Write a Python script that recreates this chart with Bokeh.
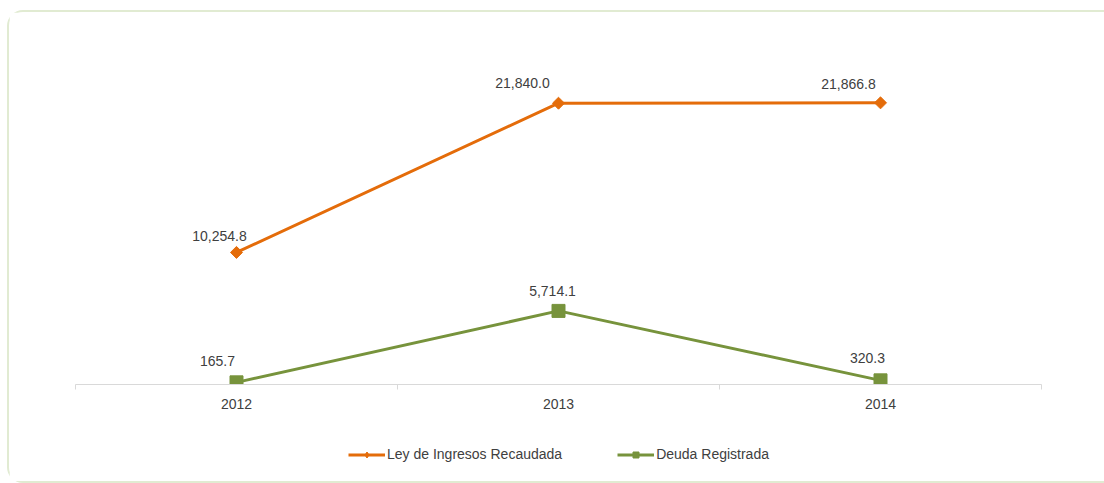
from bokeh.plotting import figure
from bokeh.layouts import column
from bokeh.models import ColumnDataSource, FixedTicker, Legend, LegendItem, Range1d
from bokeh.core.properties import value
from bokeh.embed import file_html
from bokeh.resources import INLINE
import numpy as np

# ---- data ----
years = ["2012", "2013", "2014"]
ley_ingresos = [10254.8, 21840.0, 21866.8]
deuda = [165.7, 5714.1, 320.3]
ley_labels = ["10,254.8", "21,840.0", "21,866.8"]
deuda_labels = ["165.7", "5,714.1", "320.3"]
series_names = ["Ley de Ingresos Recaudada", "Deuda Registrada"]

# ---- label placement (screen px, styling only) ----
ley_label_dx = [-17, -36, -32]
ley_label_dy = [-16, -20, -19]
deuda_label_dx = [-19, -6, -13]
deuda_label_dy = [-21, -20, -22]

ORANGE = "#E46C0A"
GREEN = "#77933C"
TEXT = "#404040"
FONT = "Liberation Sans"
BORDER = "#e1ebd2"

xpos = [i + 0.5 for i in range(len(years))]

src_ley = ColumnDataSource(dict(x=xpos, y=ley_ingresos, lbl=ley_labels,
                                dx=ley_label_dx, dy=ley_label_dy))
src_deu = ColumnDataSource(dict(x=xpos, y=deuda, lbl=deuda_labels,
                                dx=deuda_label_dx, dy=deuda_label_dy))

W = 1095
MB_L, MB_R = 66, 63
p = figure(width=W, height=412,
           x_range=Range1d(0, len(years)), y_range=Range1d(0, 25000),
           output_backend="svg", toolbar_location=None,
           min_border_left=MB_L, min_border_right=MB_R,
           min_border_top=50, min_border_bottom=40)

p.outline_line_color = None
p.xgrid.grid_line_color = None
p.ygrid.grid_line_color = None
p.yaxis.visible = False
p.background_fill_color = "white"
p.border_fill_color = "white"

ax = p.xaxis[0]
ax.ticker = FixedTicker(ticks=xpos, minor_ticks=list(range(len(years) + 1)))
ax.major_label_overrides = {xv: yr for xv, yr in zip(xpos, years)}
ax.major_tick_line_color = None
ax.major_tick_out = 0
ax.major_tick_in = 0
ax.minor_tick_line_color = "#d9d9d9"
ax.minor_tick_out = 5
ax.minor_tick_in = 0
ax.axis_line_color = "#d9d9d9"
ax.axis_line_width = 1
ax.major_label_text_font = FONT
ax.major_label_text_font_size = "14px"
ax.major_label_text_color = TEXT
ax.major_label_standoff = 9

p.line("x", "y", source=src_ley, line_color=ORANGE, line_width=3)
p.scatter("x", "y", source=src_ley, marker="square", size=8.5,
          angle=np.pi / 4, fill_color=ORANGE, line_color=ORANGE)
p.line("x", "y", source=src_deu, line_color=GREEN, line_width=3)
p.scatter("x", "y", source=src_deu, marker="square", size=13,
          fill_color=GREEN, line_color=GREEN)

for src in (src_ley, src_deu):
    p.text("x", "y", text="lbl", source=src, x_offset="dx", y_offset="dy",
           text_align="center", text_baseline="middle",
           text_font=value(FONT), text_font_size="14px", text_color=TEXT)

# ---- legend strip below the chart (same series, drawn outside its view) ----
pl = figure(width=W, height=57, x_range=Range1d(0, len(years)),
            y_range=Range1d(-3e6, -2e6),
            output_backend="svg", toolbar_location=None,
            x_axis_type=None, y_axis_type=None,
            min_border_left=MB_L, min_border_right=MB_R,
            min_border_top=0, min_border_bottom=0)
pl.outline_line_color = None
pl.xgrid.grid_line_color = None
pl.ygrid.grid_line_color = None
pl.background_fill_color = "white"
pl.border_fill_color = "white"

la = pl.line("x", "y", source=src_ley, line_color=ORANGE, line_width=3)
ma = pl.scatter("x", "y", source=src_ley, marker="diamond",
                fill_color=ORANGE, line_color=ORANGE)
lb = pl.line("x", "y", source=src_deu, line_color=GREEN, line_width=3)
mb = pl.scatter("x", "y", source=src_deu, marker="square",
                fill_color=GREEN, line_color=GREEN)

legend = Legend(items=[
    LegendItem(label=series_names[0], renderers=[la, ma]),
    LegendItem(label=series_names[1], renderers=[lb, mb]),
], orientation="horizontal", location=(273, 19))
legend.border_line_color = None
legend.background_fill_alpha = 0
legend.padding = 0
legend.margin = 0
legend.spacing = 55
legend.glyph_width = 37
legend.glyph_height = 15
legend.label_height = 15
legend.label_standoff = 2
legend.label_text_font = FONT
legend.label_text_font_size = "14px"
legend.label_text_color = TEXT
pl.add_layout(legend, "center")

layout = column(p, pl, spacing=0)
layout.styles = {
    "margin-left": "7px",
    "margin-top": "10px",
    "border-top": f"2px solid {BORDER}",
    "border-left": f"2px solid {BORDER}",
    "border-bottom": f"2px solid {BORDER}",
    "border-right": "none",
    "border-radius": "16px 0 0 16px",
}

open("out.html", "w").write(file_html(layout, INLINE))
